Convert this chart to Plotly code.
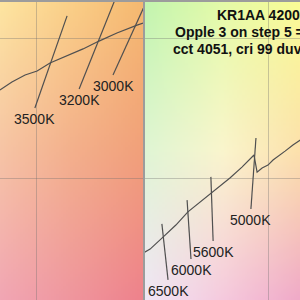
import base64, struct, zlib
import plotly.graph_objects as go

# ---------------- data (CIE 1931 x, y) ----------------
left_locus_x = [0.3871, 0.3914, 0.3961, 0.4004, 0.4050, 0.4111, 0.4168, 0.4225, 0.4289, 0.4361, 0.4393]
left_locus_y = [0.3814, 0.3843, 0.3868, 0.3882, 0.3911, 0.3936, 0.3961, 0.3989, 0.4018, 0.4046, 0.4057]

right_locus_x = [0.3054, 0.3079, 0.3125, 0.3171, 0.3214, 0.3257, 0.3300, 0.3364, 0.3407, 0.3450,
                 0.3461, 0.3479, 0.3500, 0.3518, 0.3561, 0.3589, 0.3621]
right_locus_y = [0.3232, 0.3246, 0.3289, 0.3332, 0.3379, 0.3414, 0.3450, 0.3500, 0.3539, 0.3582,
                 0.3521, 0.3536, 0.3546, 0.3564, 0.3596, 0.3618, 0.3639]

# isotherm segments: (label, x_top, y_top, x_bottom, y_bottom)
left_isotherms = [
    ("3500K", 0.4111, 0.4079, 0.3996, 0.3750),
    ("3200K", 0.4289, 0.4154, 0.4154, 0.3818),
    ("3000K", 0.4400, 0.4143, 0.4275, 0.3868),
]
right_isotherms = [
    ("6500K", 0.3121, 0.3336, 0.3143, 0.3136),
    ("6000K", 0.3211, 0.3421, 0.3225, 0.3211),
    ("5600K", 0.3296, 0.3504, 0.3304, 0.3275),
    ("5000K", 0.3457, 0.3643, 0.3439, 0.3389),
]

title_lines = ["KR1AA 4200K", "Opple 3 on step 5 = 4000K", "cct 4051, cri 99 duv 0.0020"]

grid_x_left = [0.40]
grid_x_right = [0.35]
grid_y = [0.40, 0.35]

# ---------------- view ----------------
W, H = 300, 300
PPU = 2800.0  # pixels per chromaticity unit
xl = [0.40 - 36 / PPU, 0.40 + 107 / PPU]
xr = [0.35 - 123 / PPU, 0.35 + 32 / PPU]
yr = [0.40 - 262 / PPU, 0.40 + 36 / PPU]

# background colour grids (3x3, top row first)
bg_left = [
    [(253, 229, 160), (250, 207, 135), (245, 185, 112)],
    [(246, 196, 165), (243, 176, 140), (241, 160, 122)],
    [(241, 166, 180), (239, 150, 158), (238, 130, 140)],
]
bg_right = [
    [(195, 245, 175), (228, 250, 168), (250, 252, 150)],
    [(224, 245, 212), (250, 245, 205), (252, 225, 172)],
    [(240, 230, 245), (245, 202, 222), (240, 170, 200)],
]


def gradient_png(grid, w=60, h=120):
    rows = []
    for j in range(h):
        v = j / (h - 1) * 2
        j0 = min(int(v), 1)
        fv = v - j0
        row = []
        for i in range(w):
            u = i / (w - 1) * 2
            i0 = min(int(u), 1)
            fu = u - i0
            px = []
            for c in range(3):
                a = grid[j0][i0][c] * (1 - fu) + grid[j0][i0 + 1][c] * fu
                b = grid[j0 + 1][i0][c] * (1 - fu) + grid[j0 + 1][i0 + 1][c] * fu
                px.append(int(round(a * (1 - fv) + b * fv)))
            row.append(px)
        rows.append(row)
    raw = b"".join(b"\x00" + bytes(v for p in r for v in p) for r in rows)

    def chunk(t, d):
        return struct.pack(">I", len(d)) + t + d + struct.pack(">I", zlib.crc32(t + d) & 0xFFFFFFFF)

    png = (b"\x89PNG\r\n\x1a\n" + chunk(b"IHDR", struct.pack(">IIBBBBB", w, h, 8, 2, 0, 0, 0))
           + chunk(b"IDAT", zlib.compress(raw)) + chunk(b"IEND", b""))
    return "data:image/png;base64," + base64.b64encode(png).decode()


LINE = dict(color="#505050", width=1.2)
fig = go.Figure()

fig.add_trace(go.Scatter(x=left_locus_x, y=left_locus_y, mode="lines", line=LINE,
                         xaxis="x", yaxis="y", hoverinfo="skip"))
fig.add_trace(go.Scatter(x=right_locus_x, y=right_locus_y, mode="lines", line=LINE,
                         xaxis="x2", yaxis="y2", hoverinfo="skip"))

annotations = []
for axes, iso in (("", left_isotherms), ("2", right_isotherms)):
    for lab, xt, yt, xb, yb in iso:
        fig.add_trace(go.Scatter(x=[xt, xb], y=[yt, yb], mode="lines", line=LINE,
                                 xaxis="x" + axes, yaxis="y" + axes, hoverinfo="skip"))
        annotations.append(dict(x=xb, y=yb, xref="x" + axes, yref="y" + axes, text=lab,
                                showarrow=False, xanchor="center", yanchor="top", yshift=-1,
                                font=dict(family="Liberation Sans, Arial", size=14, color="#222222")))

title_pos = [(215, 15), (173, 32), (171, 49)]
for t, (px, py) in zip(title_lines, title_pos):
    annotations.append(dict(x=px / W, y=1 - py / H, xref="paper", yref="paper", text="<b>" + t + "</b>",
                            showarrow=False, xanchor="left", yanchor="middle",
                            font=dict(family="Liberation Sans, Arial", size=14, color="#111111")))

images = [
    dict(source=gradient_png(bg_left), xref="x", yref="y", x=xl[0], y=yr[1],
         sizex=xl[1] - xl[0], sizey=yr[1] - yr[0], sizing="stretch", layer="below",
         xanchor="left", yanchor="top"),
    dict(source=gradient_png(bg_right), xref="x2", yref="y2", x=xr[0], y=yr[1],
         sizex=xr[1] - xr[0], sizey=yr[1] - yr[0], sizing="stretch", layer="below",
         xanchor="left", yanchor="top"),
]

grid_color = "rgba(110,110,110,0.35)"
ax_common = dict(showticklabels=False, ticks="", zeroline=False, showline=False,
                 showgrid=True, gridcolor=grid_color, gridwidth=1, fixedrange=True)

fig.update_layout(
    width=W, height=H, margin=dict(l=0, r=0, t=0, b=0),
    paper_bgcolor="#9c9c9c", plot_bgcolor="rgba(0,0,0,0)",
    showlegend=False,
    xaxis=dict(domain=[0, 143 / W], range=xl, tickmode="array", tickvals=grid_x_left, **ax_common),
    yaxis=dict(domain=[0, 298 / H], range=yr, tickmode="array", tickvals=grid_y, **ax_common),
    xaxis2=dict(domain=[145 / W, 1], range=xr, tickmode="array", tickvals=grid_x_right,
                anchor="y2", **ax_common),
    yaxis2=dict(domain=[0, 298 / H], range=yr, tickmode="array", tickvals=grid_y,
                anchor="x2", **ax_common),
    annotations=annotations,
    images=images,
)

fig.write_html("out.html")
